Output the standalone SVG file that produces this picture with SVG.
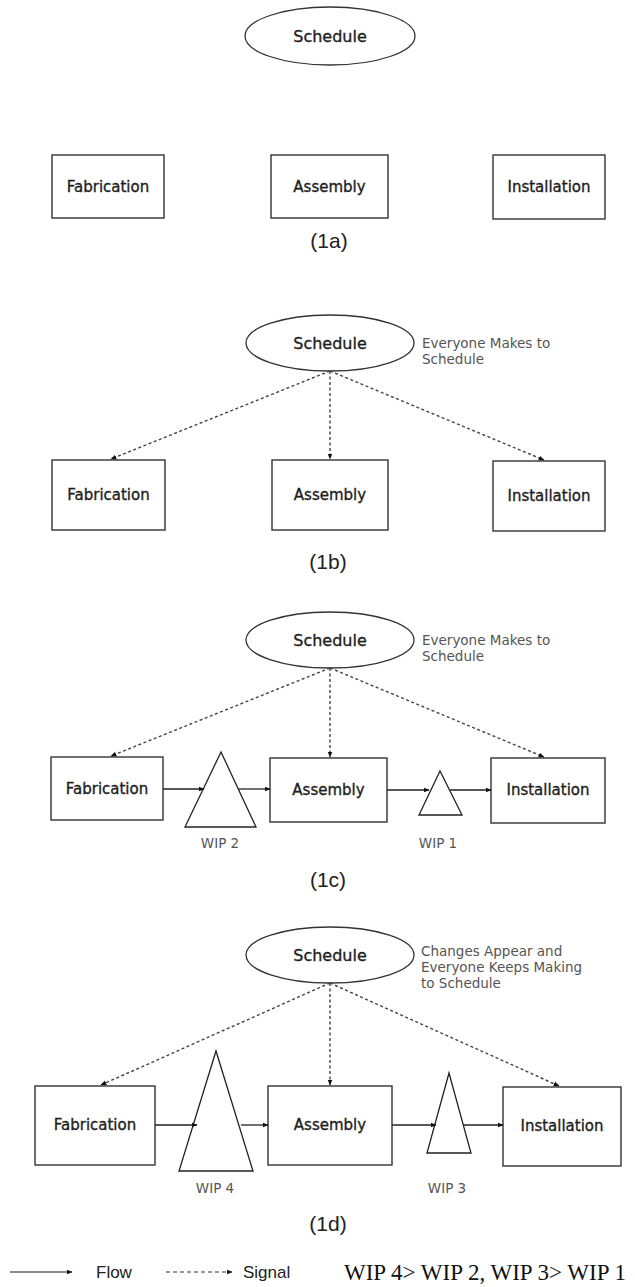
<svg xmlns="http://www.w3.org/2000/svg" width="635" height="1287" viewBox="0 0 635 1287">
  <defs>
    <marker id="head" viewBox="0 0 10 10" refX="9" refY="5" markerWidth="6" markerHeight="6" orient="auto" markerUnits="userSpaceOnUse">
      <path d="M0,1 L10,5 L0,9 z" fill="#111"/>
    </marker>
    <style>
      .box { fill: #fff; stroke: #333; stroke-width: 1.4; }
      .oval { fill: #fff; stroke: #333; stroke-width: 1.3; }
      .wip { fill: #fff; stroke: #222; stroke-width: 1.3; }
      .lbl { font-family: "DejaVu Sans", Verdana, sans-serif; font-size: 15px; fill: #1e1e1e; stroke: #1e1e1e; stroke-width: 0.35; text-anchor: middle; }
      .sch { font-family: "DejaVu Sans", Verdana, sans-serif; font-size: 16px; fill: #1e1e1e; stroke: #1e1e1e; stroke-width: 0.35; text-anchor: middle; }
      .note { font-family: "DejaVu Sans", Verdana, sans-serif; font-size: 13.5px; fill: #555; }
      .wlbl { font-family: "DejaVu Sans", Verdana, sans-serif; font-size: 13.5px; fill: #555; text-anchor: middle; }
      .cap { font-family: "Liberation Sans", Arial, sans-serif; font-size: 21px; fill: #222; text-anchor: middle; }
      .flow { stroke: #222; stroke-width: 1.3; fill: none; marker-end: url(#head); }
      .sig { stroke: #444; stroke-width: 1.4; stroke-dasharray: 3 2.5; fill: none; marker-end: url(#head); }
      .leg { font-family: "Liberation Sans", Arial, sans-serif; font-size: 17px; fill: #222; }
      .cmp { font-family: "Liberation Serif", "Times New Roman", serif; font-size: 23px; fill: #111; }
    </style>
  </defs>
  <rect width="635" height="1287" fill="#fff"/>

  <!-- Panel 1a -->
  <g id="a-schedule"><ellipse class="oval" cx="330" cy="36" rx="85" ry="29"/><text class="sch" x="330" y="42">Schedule</text></g>
  <g id="a-fabrication"><rect class="box" x="52" y="155" width="112" height="63"/><text class="lbl" x="108" y="192">Fabrication</text></g>
  <g id="a-assembly"><rect class="box" x="271" y="155" width="117" height="63"/><text class="lbl" x="329.5" y="192">Assembly</text></g>
  <g id="a-installation"><rect class="box" x="493" y="155" width="112" height="64"/><text class="lbl" x="549" y="192">Installation</text></g>
  <text class="cap" x="329" y="248">(1a)</text>

  <!-- Panel 1b -->
  <g id="b-schedule"><ellipse class="oval" cx="330" cy="343" rx="84" ry="28"/><text class="sch" x="330" y="349">Schedule</text></g>
  <text class="note" x="422" y="348">Everyone Makes to</text>
  <text class="note" x="422" y="364">Schedule</text>
  <g id="b-fabrication"><rect class="box" x="52" y="460" width="113" height="70"/><text class="lbl" x="108.5" y="500">Fabrication</text></g>
  <g id="b-assembly"><rect class="box" x="272" y="460" width="116" height="70"/><text class="lbl" x="330" y="500">Assembly</text></g>
  <g id="b-installation"><rect class="box" x="493" y="461" width="112" height="70"/><text class="lbl" x="549" y="501">Installation</text></g>
  <g id="b-connectors">
    <line class="sig" x1="330" y1="371" x2="111" y2="459"/>
    <line class="sig" x1="330" y1="371" x2="330" y2="459"/>
    <line class="sig" x1="330" y1="371" x2="544" y2="460"/>
  </g>
  <text class="cap" x="328" y="569">(1b)</text>

  <!-- Panel 1c -->
  <g id="c-schedule"><ellipse class="oval" cx="330" cy="640" rx="84" ry="28"/><text class="sch" x="330" y="646">Schedule</text></g>
  <text class="note" x="422" y="645">Everyone Makes to</text>
  <text class="note" x="422" y="661">Schedule</text>
  <g id="c-fabrication"><rect class="box" x="51" y="757" width="112" height="63"/><text class="lbl" x="107" y="794">Fabrication</text></g>
  <g id="c-wip2"><polygon class="wip" points="221,752 185,827 256,827"/><text class="wlbl" x="220" y="848">WIP 2</text></g>
  <g id="c-assembly"><rect class="box" x="270" y="758" width="117" height="64"/><text class="lbl" x="328.5" y="795">Assembly</text></g>
  <g id="c-wip1"><polygon class="wip" points="440,771 419,815 462,815"/><text class="wlbl" x="438" y="848">WIP 1</text></g>
  <g id="c-installation"><rect class="box" x="491" y="758" width="114" height="65"/><text class="lbl" x="548" y="795">Installation</text></g>
  <g id="c-connectors">
    <line class="sig" x1="330" y1="668" x2="111" y2="756"/>
    <line class="sig" x1="330" y1="668" x2="330" y2="757"/>
    <line class="sig" x1="330" y1="668" x2="544" y2="757"/>
    <line class="flow" x1="163" y1="789" x2="204" y2="789"/>
    <line class="flow" x1="238" y1="789" x2="270" y2="789"/>
    <line class="flow" x1="387" y1="790" x2="429" y2="790"/>
    <line class="flow" x1="450" y1="790" x2="491" y2="790"/>
  </g>
  <text class="cap" x="328" y="887">(1c)</text>

  <!-- Panel 1d -->
  <g id="d-schedule"><ellipse class="oval" cx="330" cy="955" rx="84" ry="28"/><text class="sch" x="330" y="961">Schedule</text></g>
  <text class="note" x="421" y="956">Changes Appear and</text>
  <text class="note" x="421" y="972">Everyone Keeps Making</text>
  <text class="note" x="421" y="988">to Schedule</text>
  <g id="d-fabrication"><rect class="box" x="35" y="1086" width="120" height="79"/><text class="lbl" x="95" y="1130">Fabrication</text></g>
  <g id="d-wip4"><polygon class="wip" points="216,1051 179,1171 253,1171"/><text class="wlbl" x="215" y="1193">WIP 4</text></g>
  <g id="d-assembly"><rect class="box" x="268" y="1086" width="124" height="79"/><text class="lbl" x="330" y="1130">Assembly</text></g>
  <g id="d-wip3"><polygon class="wip" points="449,1073 427,1153 471,1153"/><text class="wlbl" x="447" y="1193">WIP 3</text></g>
  <g id="d-installation"><rect class="box" x="503" y="1087" width="118" height="79"/><text class="lbl" x="562" y="1131">Installation</text></g>
  <g id="d-connectors">
    <line class="sig" x1="330" y1="983" x2="101" y2="1085"/>
    <line class="sig" x1="330" y1="983" x2="330" y2="1085"/>
    <line class="sig" x1="330" y1="983" x2="559" y2="1086"/>
    <line class="flow" x1="155" y1="1125" x2="197" y2="1125"/>
    <line class="flow" x1="241" y1="1125" x2="268" y2="1125"/>
    <line class="flow" x1="392" y1="1125" x2="436" y2="1125"/>
    <line class="flow" x1="463" y1="1125" x2="503" y2="1125"/>
  </g>
  <text class="cap" x="328" y="1231">(1d)</text>

  <!-- Legend -->
  <g id="legend">
    <line class="flow" x1="10" y1="1272" x2="72" y2="1272" style="stroke:#666"/>
    <text class="leg" x="96" y="1278">Flow</text>
    <line class="sig" x1="166" y1="1272" x2="232" y2="1272" style="stroke:#777;stroke-dasharray:4 3"/>
    <text class="leg" x="243" y="1278">Signal</text>
    <text class="cmp" x="344" y="1280">WIP 4&gt; WIP 2, WIP 3&gt; WIP 1</text>
  </g>
</svg>
